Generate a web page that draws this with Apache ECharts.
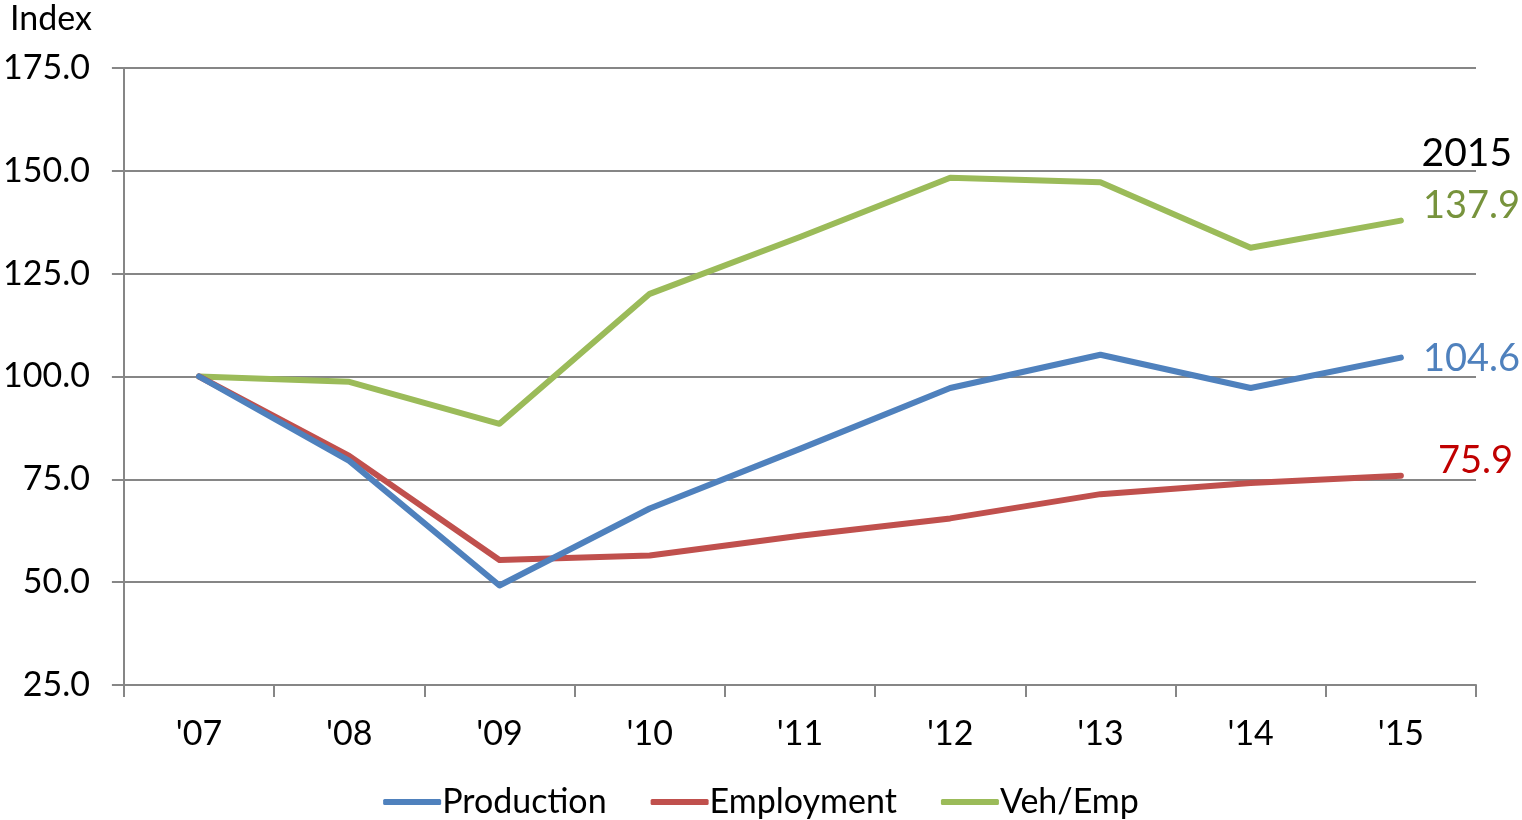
<!DOCTYPE html>
<html><head><meta charset="utf-8">
<script src="https://cdn.jsdelivr.net/npm/echarts@6/dist/echarts.min.js"></script>
<style>html,body{margin:0;padding:0;background:#fff}#c{width:1522px;height:820px}</style>
</head><body><div id="c"></div>
<script>
const categories = ["'07","'08","'09","'10","'11","'12","'13","'14","'15"];
const production = [100, 79.5, 49.2, 67.9, 82.4, 97.2, 105.3, 97.2, 104.6];
const employment = [100, 80.7, 55.4, 56.5, 61.3, 65.5, 71.4, 74.1, 75.9];
const vehEmp = [100, 98.7, 88.5, 120.1, 133.9, 148.3, 147.2, 131.3, 137.9];
const yTicks = [25, 50, 75, 100, 125, 150, 175];
const seriesNames = ['Production', 'Employment', 'Veh/Emp'];
const lineColors = ['#4F81BD', '#C0504D', '#9BBB59'];
const labelColors = ['#4F81BD', '#C00000', '#77933C'];
const labelOffsets = [[0, 1], [15, -15], [0, -15]];
const FONT = 'Lato';

function buildData(vals, i) {
  return vals.map((v, k) => {
    if (k === vals.length - 1) {
      return {value: v, label: {show: true, position: 'right', distance: 22, offset: labelOffsets[i],
        formatter: p => p.value.toFixed(1), color: labelColors[i], fontSize: 38, fontFamily: FONT}};
    }
    return v;
  });
}

const chart = echarts.init(document.getElementById('c'));
chart.setOption({
  animation: false,
  textStyle: {fontFamily: FONT},
  grid: {left: 122, right: 46, top: 68, bottom: 135, containLabel: false},
  title: [
    {text: 'Index', left: 5, top: -3, textStyle: {fontSize: 34, fontWeight: 'normal', color: '#000', fontFamily: FONT}},
    {text: '2015', right: 5, top: 129, textStyle: {fontSize: 39, fontWeight: 'normal', color: '#000', fontFamily: FONT}}
  ],
  legend: {
    bottom: -4, left: 'center', itemWidth: 58, itemHeight: 6, itemGap: 44,
    icon: 'roundRect',
    textStyle: {fontSize: 34, color: '#000', fontFamily: FONT, padding: [0,0,0,-4]},
    data: seriesNames
  },
  xAxis: {
    type: 'category', data: categories, boundaryGap: true,
    axisLine: {lineStyle: {color: '#868686', width: 2}},
    axisTick: {show: true, length: 12, lineStyle: {color: '#868686', width: 2}},
    axisLabel: {fontSize: 34, color: '#000', margin: 32, fontFamily: FONT}
  },
  yAxis: {
    type: 'value', min: 25, max: 175, interval: 25,
    axisLine: {show: true, lineStyle: {color: '#868686', width: 2}},
    axisTick: {show: true, length: 12, lineStyle: {color: '#868686', width: 2}},
    splitLine: {lineStyle: {color: '#868686', width: 2}},
    axisLabel: {fontSize: 34, color: '#000', margin: 34, fontFamily: FONT,
      formatter: v => yTicks.includes(v) ? v.toFixed(1) : ''}
  },
  series: [production, employment, vehEmp].map((vals, i) => ({
    name: seriesNames[i], type: 'line', data: buildData(vals, i),
    symbol: 'circle', symbolSize: 0, showSymbol: true, color: lineColors[i],
    lineStyle: {width: 6, color: lineColors[i], cap: 'round', join: 'round'},
    z: 3 - i
  }))
});
</script></body></html>
